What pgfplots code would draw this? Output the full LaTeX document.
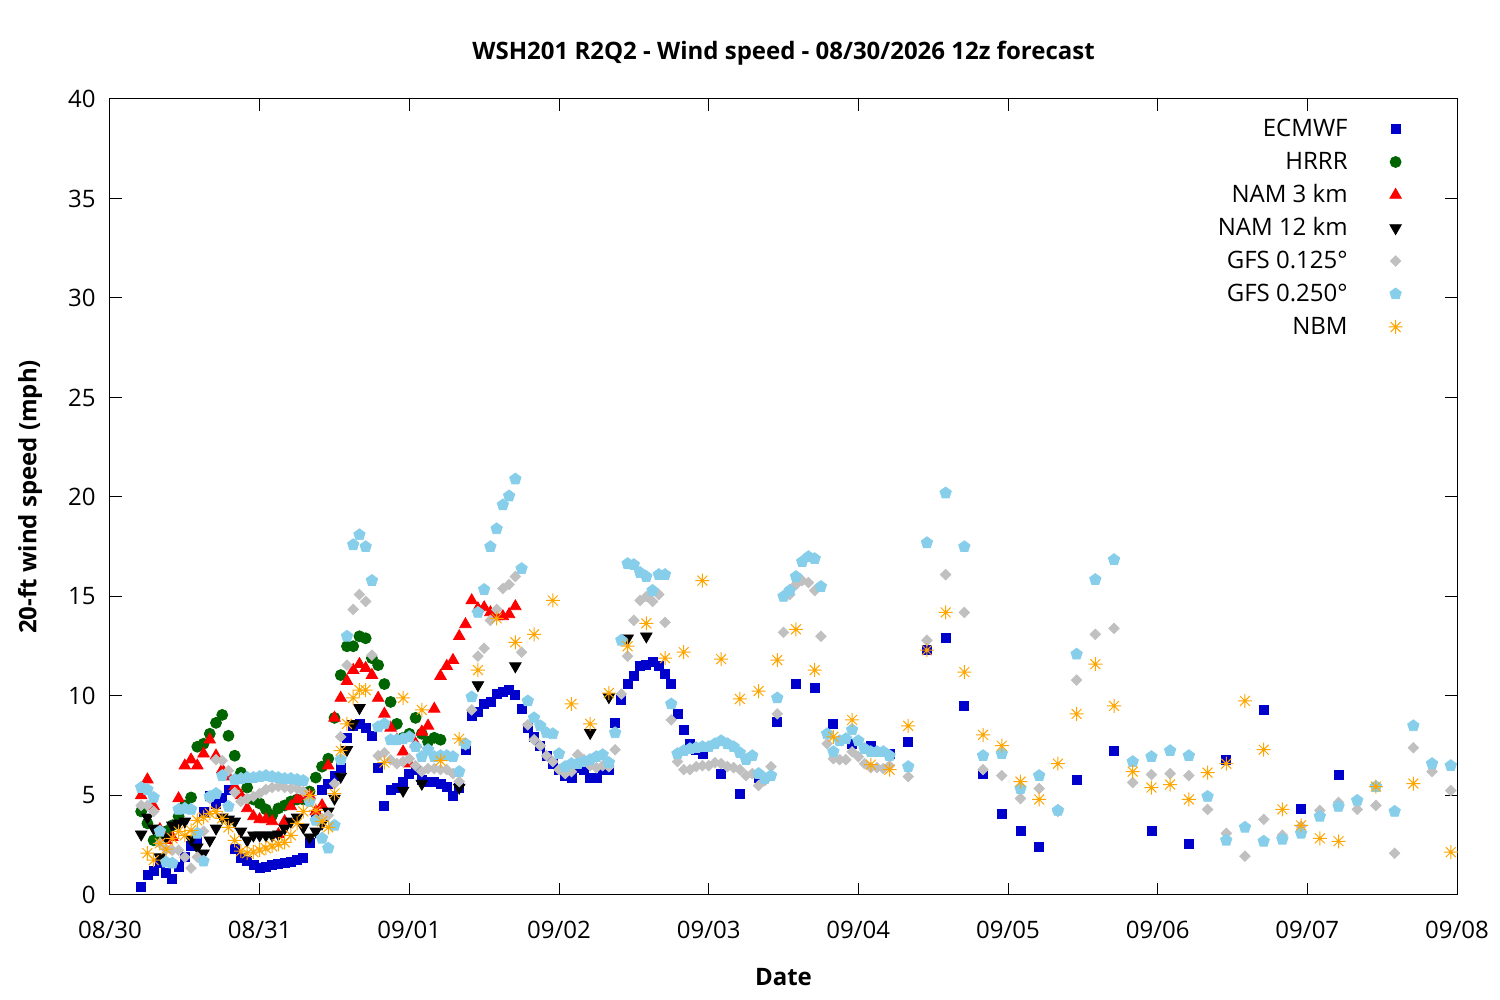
\documentclass[12pt,border=0pt]{standalone}
\usepackage{fontspec}
\setmainfont{Open Sans}
\usepackage{pgfplots}
\usepackage{pgfplotstable}
\pgfplotsset{compat=1.18}
\definecolor{ecblue}{RGB}{0,0,205}
\definecolor{hrgreen}{RGB}{0,100,0}
\definecolor{gfsgray}{RGB}{192,192,192}
\definecolor{gfsblue}{RGB}{135,206,235}
\definecolor{nbmorange}{RGB}{255,165,0}
\pgfdeclareplotmark{gpast}{%
 \pgfpathmoveto{\pgfqpoint{-\pgfplotmarksize}{0pt}}\pgfpathlineto{\pgfqpoint{\pgfplotmarksize}{0pt}}%
 \pgfpathmoveto{\pgfqpoint{0pt}{-\pgfplotmarksize}}\pgfpathlineto{\pgfqpoint{0pt}{\pgfplotmarksize}}%
 \pgfpathmoveto{\pgfqpoint{-.7071\pgfplotmarksize}{-.7071\pgfplotmarksize}}\pgfpathlineto{\pgfqpoint{.7071\pgfplotmarksize}{.7071\pgfplotmarksize}}%
 \pgfpathmoveto{\pgfqpoint{-.7071\pgfplotmarksize}{.7071\pgfplotmarksize}}\pgfpathlineto{\pgfqpoint{.7071\pgfplotmarksize}{-.7071\pgfplotmarksize}}%
 \pgfusepathqstroke}

\pgfplotstableread{
h v
5 0.4
6 1.0
7 1.2
8 1.6
9 1.1
10 0.8
11 1.4
12 1.9
13 2.45
14 2.7
15 4.2
16 5.0
17 4.6
18 4.9
19 5.3
20 2.3
21 1.85
22 1.7
23 1.5
24 1.35
25 1.4
26 1.5
27 1.55
28 1.6
29 1.65
30 1.75
31 1.85
32 2.6
33 4.0
34 5.3
35 5.6
36 6.0
37 6.4
38 7.9
39 8.5
40 8.6
41 8.4
42 8.0
43 6.4
44 4.5
45 5.3
46 5.4
47 5.7
48 6.1
49 6.3
50 5.8
51 5.7
52 5.7
53 5.6
54 5.45
55 5.0
56 5.4
57 7.3
58 9.0
59 9.2
60 9.6
61 9.7
62 10.1
63 10.2
64 10.3
65 10.05
66 9.35
67 8.4
68 7.95
69 7.5
70 7.0
71 6.6
72 6.3
73 6.0
74 5.9
75 6.4
76 6.3
77 5.9
78 5.9
79 6.3
80 6.3
81 8.65
82 9.8
83 10.6
84 11.0
85 11.5
86 11.55
87 11.7
88 11.5
89 11.1
90 10.6
91 9.1
92 8.3
93 7.6
94 7.3
95 7.1
98 6.1
101 5.1
104 5.9
107 8.7
110 10.6
113 10.4
116 8.6
119 7.6
122 7.5
125 7.1
128 7.7
131 12.3
134 12.9
137 9.5
140 6.1
143 4.1
146 3.2
149 2.4
155 5.8
161 7.25
167 3.2
173 2.55
179 6.8
185 9.3
191 4.35
197 6.05
}\ecmwf

\pgfplotstableread{
h v
5 4.2
6 3.6
7 2.75
8 2.9
9 3.2
10 3.5
11 3.95
12 4.5
13 4.9
14 7.45
15 7.6
16 8.1
17 8.65
18 9.05
19 8.0
20 7.0
21 6.15
22 5.4
23 4.8
24 4.6
25 4.3
26 4.0
27 4.35
28 4.5
29 4.7
30 4.8
31 4.8
32 5.2
33 5.9
34 6.45
35 6.85
36 8.9
37 11.05
38 12.5
39 12.5
40 13.0
41 12.9
42 11.9
43 11.55
44 10.6
45 9.7
46 8.6
47 7.9
48 8.1
49 8.9
50 8.1
51 7.7
52 7.9
53 7.8
}\hrrr

\pgfplotstableread{
h v
5 5.0
6 5.8
7 4.45
8 3.3
9 2.75
10 2.9
11 4.85
12 6.5
13 6.8
14 6.5
15 7.1
16 7.8
17 7.0
18 6.3
19 5.95
20 5.45
21 5.0
22 4.35
23 3.95
24 3.8
25 3.8
26 3.7
27 3.05
28 3.7
29 4.45
30 4.8
31 4.95
32 5.0
33 4.2
34 4.5
35 6.5
36 8.9
37 9.9
38 10.75
39 11.3
40 11.6
41 11.4
42 11.05
43 9.9
44 9.1
45 8.4
46 7.8
47 7.2
48 6.6
49 7.6
50 8.2
51 8.5
52 9.35
53 11.0
54 11.5
55 11.8
56 13.0
57 13.6
58 14.8
59 14.4
60 14.45
61 14.2
62 14.0
63 14.0
64 14.1
65 14.5
}\namthree

\pgfplotstableread{
h v
5 3.05
6 3.9
7 3.35
8 1.9
9 2.9
10 3.5
11 3.6
12 3.7
13 2.8
14 2.4
15 2.1
16 2.75
17 3.35
18 3.9
19 3.8
20 3.7
21 3.2
22 2.75
23 3.0
24 3.0
25 3.0
26 3.0
27 3.05
28 3.35
29 3.7
30 3.9
31 3.4
32 2.9
33 3.2
34 3.6
35 4.2
36 4.85
37 5.95
38 7.3
39 8.6
40 9.4
47 5.25
50 5.6
56 5.4
59 10.55
65 11.5
74 6.3
77 8.15
80 9.95
83 12.9
86 13.0
}\namtwelve

\pgfplotstableread{
h v
5 4.5
6 4.5
7 4.2
8 2.6
9 2.3
10 2.25
11 2.25
12 1.9
13 1.35
14 1.9
15 3.2
16 4.85
17 6.8
18 6.75
19 6.25
20 5.15
21 4.7
22 4.85
23 4.95
24 5.1
25 5.3
26 5.4
27 5.45
28 5.4
29 5.35
30 5.35
31 5.2
32 4.7
33 3.75
34 3.85
35 4.0
36 5.6
37 7.95
38 11.55
39 14.35
40 15.1
41 14.75
42 12.05
43 7.0
44 7.15
45 6.8
46 6.6
47 6.7
48 6.85
49 6.5
50 6.2
51 6.35
52 6.35
53 6.3
54 6.3
55 6.1
56 5.7
57 7.55
58 9.3
59 12.0
60 12.4
61 13.8
62 14.35
63 15.4
64 15.6
65 16.0
66 12.2
67 8.55
68 7.8
69 7.5
70 7.0
71 6.7
72 6.3
73 6.1
74 6.2
75 7.05
76 6.8
77 6.5
78 6.4
79 6.5
80 6.45
81 7.3
82 10.1
83 12.0
84 13.8
85 14.8
86 15.0
87 14.75
88 15.1
89 13.7
90 8.8
91 6.7
92 6.3
93 6.3
94 6.45
95 6.5
96 6.5
97 6.65
98 6.6
99 6.45
100 6.4
101 6.3
102 6.0
103 6.1
104 5.5
105 5.75
106 6.45
107 9.1
108 13.2
109 15.1
110 15.6
111 15.8
112 15.7
113 15.3
114 13.0
115 7.6
116 6.85
117 6.8
118 6.8
119 7.2
120 6.95
121 6.6
122 6.4
123 6.4
124 6.35
125 6.5
128 5.95
131 12.8
134 16.1
137 14.2
140 6.3
143 6.0
146 4.85
149 5.35
152 4.2
155 10.8
158 13.1
161 13.4
164 5.65
167 6.05
170 6.1
173 6.0
176 4.3
179 3.1
182 1.95
185 3.8
188 3.0
191 3.45
194 4.25
197 4.65
200 4.3
203 4.5
206 2.1
209 7.4
212 6.2
215 5.25
}\gfsa

\pgfplotstableread{
h v
5 5.4
6 5.3
7 4.9
8 3.2
9 1.65
10 1.6
11 4.3
12 4.35
13 4.3
14 3.1
15 1.7
16 4.95
17 5.1
18 6.0
19 4.45
20 5.8
21 5.85
22 5.9
23 5.9
24 5.95
25 6.0
26 5.95
27 5.9
28 5.85
29 5.85
30 5.8
31 5.75
32 4.7
33 3.75
34 2.85
35 2.35
36 3.5
37 6.8
38 13.0
39 17.6
40 18.1
41 17.5
42 15.8
43 8.45
44 8.6
45 7.8
46 7.8
47 7.85
48 7.95
49 7.45
50 6.95
51 7.3
52 6.95
53 7.0
54 7.0
55 6.95
56 6.2
57 7.6
58 9.95
59 14.2
60 15.35
61 17.5
62 18.4
63 19.6
64 20.05
65 20.9
66 16.4
67 9.75
68 8.9
69 8.5
70 8.15
71 8.1
72 7.1
73 6.45
74 6.6
75 6.6
76 6.7
77 6.8
78 6.95
79 7.05
80 6.65
81 8.15
82 12.8
83 16.65
84 16.6
85 16.2
86 16.0
87 15.3
88 16.1
89 16.1
90 9.6
91 7.1
92 7.25
93 7.35
94 7.4
95 7.45
96 7.45
97 7.6
98 7.75
99 7.6
100 7.45
101 7.15
102 6.8
103 7.0
104 6.1
105 5.85
106 6.0
107 9.9
108 15.0
109 15.3
110 16.0
111 16.75
112 17.0
113 16.9
114 15.5
115 8.1
116 7.2
117 7.75
118 7.85
119 8.3
120 7.75
121 7.35
122 7.2
123 7.2
124 7.2
125 7.0
128 6.45
131 17.7
134 20.2
137 17.5
140 7.0
143 7.1
146 5.35
149 6.0
152 4.25
155 12.1
158 15.85
161 16.85
164 6.7
167 6.95
170 7.25
173 7.0
176 4.95
179 2.75
182 3.4
185 2.7
188 2.8
191 3.1
194 3.95
197 4.45
200 4.75
203 5.45
206 4.2
209 8.5
212 6.6
215 6.5
}\gfsb

\pgfplotstableread{
h v
6 2.1
7 1.75
8 2.6
9 2.3
10 2.85
11 3.2
12 3.0
13 3.25
14 3.75
15 3.9
16 4.1
17 4.2
18 3.85
19 3.4
20 2.75
21 2.2
22 2.1
23 2.15
24 2.25
25 2.35
26 2.45
27 2.55
28 2.65
29 3.0
30 3.6
31 4.2
32 5.0
33 4.25
34 3.7
35 3.4
36 5.1
37 7.25
38 8.6
39 9.9
40 10.3
41 10.3
44 6.65
47 9.9
50 9.3
53 6.75
56 7.85
59 11.3
62 13.9
65 12.7
68 13.1
71 14.8
74 9.6
77 8.6
80 10.15
83 12.5
86 13.65
89 11.9
92 12.2
95 15.8
98 11.85
101 9.85
104 10.25
107 11.8
110 13.35
113 11.3
116 7.95
119 8.8
122 6.55
125 6.3
128 8.5
131 12.3
134 14.2
137 11.2
140 8.05
143 7.5
146 5.7
149 4.8
152 6.6
155 9.1
158 11.6
161 9.5
164 6.2
167 5.4
170 5.55
173 4.8
176 6.15
179 6.6
182 9.75
185 7.3
188 4.3
191 3.5
194 2.85
197 2.7
203 5.45
209 5.6
215 2.15
}\nbm

\begin{document}
\begin{tikzpicture}
\begin{axis}[
  at={(0,0)}, anchor=south west,
  scale only axis, width=673.5pt, height=398pt,
  xmin=0, xmax=216, ymin=0, ymax=40,
  xtick={0,24,...,216},
  xticklabels={08/30,08/31,09/01,09/02,09/03,09/04,09/05,09/06,09/07,09/08},
  ytick={0,5,...,40},
  /pgf/number format/assume math mode=true,
  tick align=inside, xtick pos=both, ytick pos=both,
  xticklabel pos=lower, yticklabel pos=left,
  major tick length=6pt,
  tick style={black, line width=0.5pt},
  axis line style={line width=0.5pt},
  xticklabel style={yshift=-9pt},
  yticklabel style={xshift=-3pt},
  clip=false,
  title={\bfseries WSH201 R2Q2 - Wind speed - 08/30/2026 12z forecast},
  title style={at={(0.5,1)}, anchor=center, yshift=17pt},
  xlabel={\bfseries Date},
  xlabel style={at={(axis description cs:0.5,0)}, anchor=center, yshift=-41pt},
  ylabel={\bfseries 20-ft wind speed (mph)},
  ylabel style={at={(axis description cs:0,0.5)}, anchor=center, yshift=40pt},
  legend plot pos=right,
  legend cell align=right,
  legend image post style={yshift=1pt},
  legend style={at={(1,1)}, anchor=north east, xshift=-27pt, yshift=-9.8pt,
    draw=none, fill=none, inner sep=0pt,
    nodes={inner sep=0pt, text height=9pt, text depth=3pt},
    row sep=4.5pt,
    /tikz/every odd column/.append style={column sep=20.5pt}},
]
\addplot[only marks, mark=square*, mark size=2.25pt, color=ecblue] table[x=h,y=v] {\ecmwf};
\addlegendentry{ECMWF}
\addplot[only marks, mark=*, mark size=2.75pt, color=hrgreen] table[x=h,y=v] {\hrrr};
\addlegendentry{HRRR}
\addplot[only marks, mark=triangle*, mark size=3.3pt, color=red] table[x=h,y=v] {\namthree};
\addlegendentry{NAM 3 km}
\addplot[only marks, mark=triangle*, mark size=3.3pt, color=black, mark options={rotate=180}] table[x=h,y=v] {\namtwelve};
\addlegendentry{NAM 12 km}
\addplot[only marks, mark=square*, mark size=1.85pt, color=gfsgray, mark options={rotate=45}] table[x=h,y=v] {\gfsa};
\addlegendentry{GFS 0.125°}
\addplot[only marks, mark=pentagon*, mark size=3pt, color=gfsblue] table[x=h,y=v] {\gfsb};
\addlegendentry{GFS 0.250°}
\addplot[only marks, mark=gpast, mark size=3.5pt, color=nbmorange, line width=0.5pt] table[x=h,y=v] {\nbm};
\addlegendentry{NBM}
\end{axis}
\path[use as bounding box] (-55pt,-52.5pt) rectangle (695pt,447.5pt);
\end{tikzpicture}
\end{document}
